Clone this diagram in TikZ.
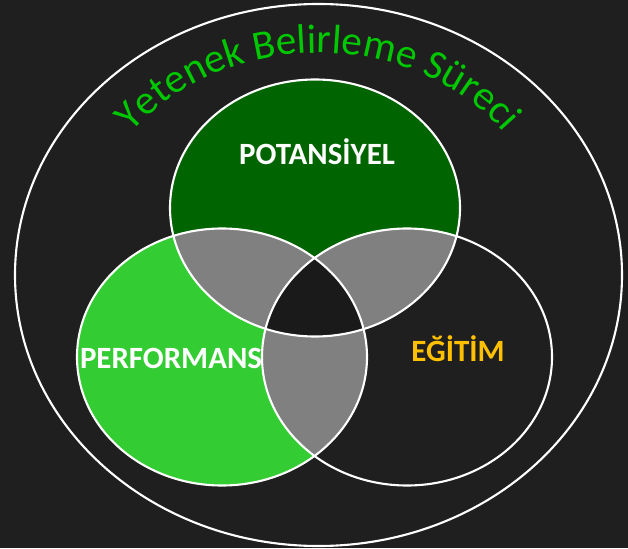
\documentclass[tikz,border=0pt]{standalone}
\usepackage{fontspec}
\setmainfont{Carlito}
\usetikzlibrary{decorations.text}
\definecolor{bgdark}{HTML}{1F1F1F}
\definecolor{potgreen}{HTML}{006400}
\definecolor{perfgreen}{HTML}{33CC33}
\definecolor{egitimgold}{HTML}{FFC000}
\definecolor{titlegreen}{HTML}{00C800}
\definecolor{lensgray}{HTML}{808080}
\tikzset{
    ring/.style={x radius=145, y radius=128.5},
    rim/.style={draw=white, line width=1.2pt},
    label/.style={font=\bfseries\fontsize{17.6}{20}\selectfont}
}
\begin{document}
\begin{tikzpicture}[x=0.02cm,y=0.02cm]
        \fill [bgdark] (0,0) rectangle (628,548);
        \coordinate (ctop) at (315,340);
        \coordinate (cleft) at (222,191);
        \coordinate (cright) at (407,191);
        \draw [rim] (318.5,273) ellipse [x radius=303.5, y radius=271];
        \path [decorate,decoration={text along path,text align=center,
            text={|\fontsize{23.5}{26}\selectfont\color{titlegreen}|Yetenek Belirleme Süreci}}]
            (318,300) ++(170:230 and 195) arc [start angle=170, end angle=10, x radius=230, y radius=195];
        \fill [potgreen] (ctop) ellipse [ring];
        \fill [perfgreen] (cleft) ellipse [ring];
        \fill [bgdark] (cright) ellipse [ring];
        % overlaps
        \begin{scope}
            \clip (ctop) ellipse [ring];
            \fill [lensgray] (cleft) ellipse [ring];
            \fill [lensgray] (cright) ellipse [ring];
        \end{scope}
        \begin{scope}
            \clip (cleft) ellipse [ring];
            \fill [lensgray] (cright) ellipse [ring];
        \end{scope}
        \begin{scope}
            \clip (ctop) ellipse [ring];
            \clip (cleft) ellipse [ring];
            \fill [bgdark!85!black] (cright) ellipse [ring];
        \end{scope}
        \draw [rim] (ctop) ellipse [ring];
        \draw [rim] (cleft) ellipse [ring];
        \draw [rim] (cright) ellipse [ring];
        \node [label,text=white] (potansiyel) at (317,396) {POTANSİYEL};
        \node [label,text=white] (performans) at (171,190) {PERFORMANS};
        \node [label,text=egitimgold] (egitim) at (458,199) {EĞİTİM};
    \end{tikzpicture}
\end{document}
